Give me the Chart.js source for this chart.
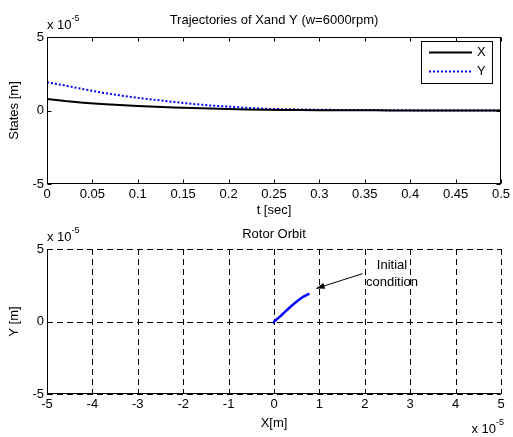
<!DOCTYPE html><html><head>
<title>Trajectories of X and Y</title>
<style>
body{margin:0;background:#fff;}
#wrap{position:relative;width:513px;height:437px;}
canvas{position:absolute;left:0;}
</style>
</head>
<body>
<div id="wrap">
  <canvas id="traj" width="513" height="220" style="top:0"></canvas>
  <canvas id="orbit" width="513" height="217" style="top:220px"></canvas>
</div>
<script src="https://cdn.jsdelivr.net/npm/chart.js"></script>
<script>
const FONT = "'Liberation Sans', Arial, sans-serif";
Chart.defaults.font.family = FONT;
Chart.defaults.font.size = 13;
Chart.defaults.color = '#000';

// displacements in units of 1e-5 m
const tSec  = [0, 0.02, 0.04, 0.06, 0.08, 0.10, 0.12, 0.14, 0.16, 0.18, 0.20, 0.22, 0.24,
               0.26, 0.28, 0.30, 0.32, 0.34, 0.36, 0.38, 0.40, 0.42, 0.44, 0.46, 0.48, 0.50];
const xDisp = [0.78, 0.64, 0.53, 0.44, 0.37, 0.31, 0.26, 0.21, 0.17, 0.13, 0.10, 0.07, 0.05,
               0.04, 0.03, 0.02, 0.02, 0.01, 0.01, 0.00, 0.00, 0.00, 0.00, 0.00, 0.00, 0.00];
const yDisp = [1.92, 1.70, 1.45, 1.22, 1.03, 0.86, 0.72, 0.58, 0.45, 0.34, 0.26, 0.18, 0.12,
               0.09, 0.07, 0.05, 0.04, 0.04, 0.03, 0.02, 0.01, 0.00, 0.00, 0.00, 0.00, 0.00];
const seriesNames = ['X', 'Y'];

const tTicks      = [0, 0.05, 0.1, 0.15, 0.2, 0.25, 0.3, 0.35, 0.4, 0.45, 0.5];
const statesTicks = [-5, 0, 5];
const orbitXTicks = [-5, -4, -3, -2, -1, 0, 1, 2, 3, 4, 5];
const orbitYTicks = [-5, 0, 5];
const noteLines   = ['Initial', 'condition'];

function setTicks(list) {
  return s => { s.ticks = list.map(v => ({value: v})); };
}

function line(ctx, x1, y1, x2, y2) {
  ctx.beginPath(); ctx.moveTo(x1, y1); ctx.lineTo(x2, y2); ctx.stroke();
}

function exponent(ctx, x, y, align) {
  ctx.fillStyle = '#000';
  ctx.textBaseline = 'alphabetic';
  ctx.textAlign = 'left';
  ctx.font = '13px ' + FONT;
  const w = ctx.measureText('x 10').width;
  ctx.font = '9px ' + FONT;
  const w2 = ctx.measureText('-5').width;
  const x0 = align === 'right' ? x - w - w2 : x;
  ctx.font = '13px ' + FONT;
  ctx.fillText('x 10', x0, y);
  ctx.font = '9px ' + FONT;
  ctx.fillText('-5', x0 + w, y - 8);
}

const matlabAxes = {
  id: 'matlabAxes',
  beforeDatasetsDraw(chart, args, o) {
    if (!o.grid) return;
    const {ctx, chartArea: a, scales: {x: sx, y: sy}} = chart;
    ctx.save();
    ctx.strokeStyle = '#000';
    ctx.lineWidth = 1;
    ctx.setLineDash([6, 4]);
    sx.ticks.forEach(t => {
      const p = Math.round(sx.getPixelForValue(t.value)) + 0.5;
      line(ctx, p, a.top, p, a.bottom);
    });
    sy.ticks.forEach(t => {
      const p = Math.round(sy.getPixelForValue(t.value)) + 0.5;
      line(ctx, a.left, p, a.right, p);
    });
    ctx.restore();
  },
  afterDraw(chart, args, o) {
    const {ctx, chartArea: a, scales: {x: sx, y: sy}} = chart;
    const L = Math.round(a.left) + 0.5, R = Math.round(a.right) - 0.5;
    const T = Math.round(a.top) + 0.5, B = Math.round(a.bottom) - 0.5;
    ctx.save();
    ctx.strokeStyle = '#000';
    ctx.lineWidth = 1;
    ctx.setLineDash([]);
    if (o.grid) {
      line(ctx, L, T, L, B + 0.5);
      line(ctx, L, B, R, B);
    } else {
      ctx.strokeRect(L, T, R - L, B - T);
    }
    // inward tick marks
    sx.ticks.forEach(t => {
      const p = Math.round(sx.getPixelForValue(t.value)) + 0.5;
      line(ctx, p, B, p, B - 4);
      if (!o.grid) line(ctx, p, T, p, T + 4);
    });
    sy.ticks.forEach(t => {
      const p = Math.round(sy.getPixelForValue(t.value)) + 0.5;
      line(ctx, L, p, L + 4, p);
      if (!o.grid) line(ctx, R, p, R - 4, p);
    });
    // title
    ctx.fillStyle = '#000';
    ctx.font = '13px ' + FONT;
    ctx.textAlign = 'center';
    ctx.textBaseline = 'middle';
    ctx.fillText(o.title, (a.left + a.right) / 2, o.titleY);
    // exponent
    exponent(ctx, a.left, a.top - 8);
    if (o.grid) exponent(ctx, a.right + 3, chart.height - 4, 'right');

    if (o.legend) {
      const bx = a.right - 80, by = a.top + 4, bw = 71, bh = 42;
      ctx.fillStyle = '#fff';
      ctx.fillRect(bx, by, bw, bh);
      ctx.strokeStyle = '#000';
      ctx.lineWidth = 1;
      ctx.strokeRect(bx + 0.5, by + 0.5, bw, bh);
      ctx.font = '13px ' + FONT;
      chart.data.datasets.forEach((d, i) => {
        const yy = Math.round(by + 11 + i * 19) + 0.5;
        ctx.strokeStyle = d.borderColor;
        ctx.lineWidth = d.borderWidth;
        ctx.setLineDash(d.borderDash || []);
        line(ctx, bx + 8, yy, bx + 51, yy);
        ctx.setLineDash([]);
        ctx.fillStyle = '#000';
        ctx.textAlign = 'left';
        ctx.textBaseline = 'middle';
        ctx.fillText(d.label, bx + 56, yy);
      });
    }

    if (o.note) {
      ctx.fillStyle = '#000';
      ctx.font = '13px ' + FONT;
      ctx.textAlign = 'center';
      ctx.textBaseline = 'middle';
      ctx.fillText(noteLines[0], sx.getPixelForValue(2.6), sy.getPixelForValue(3.85));
      ctx.fillText(noteLines[1], sx.getPixelForValue(2.6), sy.getPixelForValue(2.7));
      const x1 = sx.getPixelForValue(1.95), y1 = sy.getPixelForValue(3.3);
      const x2 = sx.getPixelForValue(0.93), y2 = sy.getPixelForValue(2.28);
      ctx.strokeStyle = '#000';
      ctx.lineWidth = 1;
      line(ctx, x1, y1, x2, y2);
      const ang = Math.atan2(y2 - y1, x2 - x1);
      ctx.beginPath();
      ctx.moveTo(x2, y2);
      ctx.lineTo(x2 - 9 * Math.cos(ang - 0.35), y2 - 9 * Math.sin(ang - 0.35));
      ctx.lineTo(x2 - 9 * Math.cos(ang + 0.35), y2 - 9 * Math.sin(ang + 0.35));
      ctx.closePath();
      ctx.fill();
    }
    ctx.restore();
  }
};

function baseScales(xTicks, yTicks, xMin, xMax, xTitle, yTitle, xHeight, xTitlePad) {
  return {
    x: {
      type: 'linear', min: xMin, max: xMax,
      afterBuildTicks: setTicks(xTicks),
      afterFit: s => { s.height = xHeight; },
      grid: {display: false, drawTicks: false},
      border: {display: false},
      ticks: {padding: 3, autoSkip: false, maxRotation: 0, callback: v => String(v)},
      title: {display: true, text: xTitle, padding: {top: 0, bottom: xTitlePad}}
    },
    y: {
      type: 'linear', min: -5, max: 5,
      afterBuildTicks: setTicks(yTicks),
      afterFit: s => { s.width = 47; },
      grid: {display: false, drawTicks: false},
      border: {display: false},
      ticks: {padding: 3, autoSkip: false},
      title: {display: true, text: yTitle, padding: {top: 7, bottom: 0}}
    }
  };
}

new Chart(document.getElementById('traj'), {
  type: 'scatter',
  data: {
    datasets: [
      {label: seriesNames[0], data: tSec.map((t, i) => ({x: t, y: xDisp[i]})),
       showLine: true, borderColor: '#000000', borderWidth: 2, pointRadius: 0},
      {label: seriesNames[1], data: tSec.map((t, i) => ({x: t, y: yDisp[i]})),
       showLine: true, borderColor: '#0000ff', borderWidth: 2, borderDash: [2, 2], pointRadius: 0}
    ]
  },
  options: {
    responsive: false, animation: false,
    layout: {padding: {top: 37, right: 12, left: 0, bottom: 0}},
    scales: baseScales(tTicks, statesTicks, 0, 0.5, 't [sec]', 'States [m]', 36, 2),
    plugins: {
      legend: {display: false}, tooltip: {enabled: false},
      matlabAxes: {title: 'Trajectories of Xand Y (w=6000rpm)', titleY: 20, legend: true}
    }
  },
  plugins: [matlabAxes]
});

new Chart(document.getElementById('orbit'), {
  type: 'scatter',
  data: {
    datasets: [
      {label: 'orbit', data: xDisp.map((x, i) => ({x: x, y: yDisp[i]})),
       showLine: true, borderColor: '#0000ff', borderWidth: 2.5, pointRadius: 0}
    ]
  },
  options: {
    responsive: false, animation: false,
    layout: {padding: {top: 29, right: 12, left: 0, bottom: 0}},
    scales: baseScales(orbitXTicks, orbitYTicks, -5, 5, 'X[m]', 'Y [m]', 43, 6),
    plugins: {
      legend: {display: false}, tooltip: {enabled: false},
      matlabAxes: {title: 'Rotor Orbit', titleY: 14, grid: true, note: true}
    }
  },
  plugins: [matlabAxes]
});
</script>
</body></html>
